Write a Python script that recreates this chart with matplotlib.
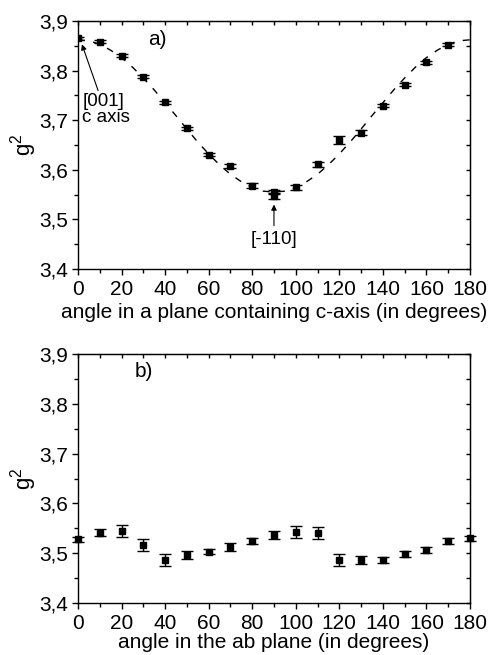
import matplotlib
matplotlib.use('Agg')
import matplotlib.pyplot as plt
from matplotlib import rc
from matplotlib.ticker import MultipleLocator, FuncFormatter
import numpy as np

rc('font', family='Liberation Sans', size=15)
rc('mathtext', fontset='custom', rm='Liberation Sans', it='Liberation Sans')

# a) rotation in a plane containing the c-axis
angle_a = [0, 10, 20, 30, 40, 50, 60, 70, 80, 90, 90, 100, 110, 120, 130, 140, 150, 160, 170]
g2_a = [3.865, 3.858, 3.830, 3.788, 3.736, 3.684, 3.630, 3.607, 3.568, 3.556, 3.547,
        3.565, 3.611, 3.660, 3.675, 3.729, 3.771, 3.817, 3.852]
err_a = [0.003, 0.003, 0.003, 0.003, 0.003, 0.003, 0.003, 0.004, 0.005, 0.004, 0.006,
         0.005, 0.005, 0.008, 0.005, 0.003, 0.003, 0.003, 0.003]

# dashed fit curve, sampled every 5 degrees
fit_angle = [0, 5, 10, 15, 20, 25, 30, 35, 40, 45, 50, 55, 60, 65, 70, 75, 80, 85, 90,
             95, 100, 105, 110, 115, 120, 125, 130, 135, 140, 145, 150, 155, 160, 165,
             170, 175, 180]
fit_g2 = [3.862, 3.860, 3.853, 3.841, 3.826, 3.807, 3.785, 3.761, 3.735, 3.709, 3.682,
          3.656, 3.632, 3.610, 3.591, 3.576, 3.564, 3.557, 3.555, 3.557, 3.564, 3.576,
          3.591, 3.610, 3.632, 3.656, 3.682, 3.709, 3.735, 3.761, 3.785, 3.807, 3.826,
          3.841, 3.853, 3.860, 3.862]

# b) rotation in the ab plane
angle_b = [0, 10, 20, 30, 40, 50, 60, 70, 80, 90, 100, 110, 120, 130, 140, 150, 160, 170, 180]
g2_b = [3.528, 3.541, 3.544, 3.516, 3.486, 3.496, 3.503, 3.513, 3.524, 3.536, 3.543,
        3.541, 3.487, 3.487, 3.486, 3.498, 3.507, 3.525, 3.530]
err_b = [0.005, 0.007, 0.012, 0.012, 0.012, 0.008, 0.005, 0.008, 0.006, 0.008, 0.012,
         0.012, 0.012, 0.008, 0.006, 0.006, 0.006, 0.006, 0.005]


def comma(v, pos):
    return ('%.1f' % v).replace('.', ',')


def style_axes(ax, xlabel, xpad):
    ax.set_xlim(0, 180)
    ax.set_ylim(3.4, 3.9)
    ax.xaxis.set_major_locator(MultipleLocator(20))
    ax.xaxis.set_minor_locator(MultipleLocator(10))
    ax.yaxis.set_major_locator(MultipleLocator(0.1))
    ax.yaxis.set_minor_locator(MultipleLocator(0.05))
    ax.yaxis.set_major_formatter(FuncFormatter(comma))
    ax.tick_params(which='major', direction='out', length=4, width=1)
    ax.tick_params(which='minor', direction='out', length=3, width=1)
    ax.tick_params(axis='x', which='major', pad=4)
    ax.tick_params(axis='y', which='major', pad=3)
    # mirrored ticks on top/right point inward
    top = ax.secondary_xaxis('top')
    top.xaxis.set_major_locator(MultipleLocator(10))
    top.tick_params(direction='in', length=3, width=1, labeltop=False)
    right = ax.secondary_yaxis('right')
    right.yaxis.set_major_locator(MultipleLocator(0.05))
    right.tick_params(direction='in', length=3, width=1, labelright=False)
    for s in ax.spines.values():
        s.set_linewidth(1)
    ax.set_xlabel(xlabel, labelpad=xpad)
    ax.set_ylabel(r'$\mathregular{g^2}$', fontsize=16, labelpad=0)


fig = plt.figure(figsize=(4.89, 6.55), dpi=100)
ax1 = fig.add_axes([0.1595, 0.5893, 0.8015, 0.3787])
ax2 = fig.add_axes([0.1595, 0.0794, 0.8015, 0.3801])

ax1.plot(fit_angle, fit_g2, color='black', lw=1, linestyle=(0, (5, 6)))
ax1.errorbar(angle_a, g2_a, yerr=err_a, fmt='s', color='black', ms=5,
             capsize=4, elinewidth=1, capthick=1)
style_axes(ax1, 'angle in a plane containing c-axis (in degrees)', 3)
ax1.text(32, 3.862, 'a)', va='center', ha='left')
ax1.annotate('[001]\nc axis', xy=(1.8, 3.853), xytext=(2.0, 3.754),
             ha='left', va='top', fontsize=13.5, linespacing=0.9,
             arrowprops=dict(arrowstyle='-|>', color='black', lw=0.8,
                             mutation_scale=8, shrinkA=0, shrinkB=0,
                             relpos=(0.35, 1.0)))
ax1.annotate('[-110]', xy=(90, 3.530), xytext=(90, 3.459),
             ha='center', va='center', fontsize=13.5,
             arrowprops=dict(arrowstyle='-|>', color='black', lw=0.8,
                             mutation_scale=8, shrinkA=2, shrinkB=0))

ax2.errorbar(angle_b, g2_b, yerr=err_b, fmt='s', color='black', ms=5,
             capsize=4, elinewidth=1, capthick=1, clip_on=False)
style_axes(ax2, 'angle in the ab plane (in degrees)', 0)
ax2.text(26, 3.864, 'b)', va='center', ha='left')

fig.savefig('out.png', dpi=100)
